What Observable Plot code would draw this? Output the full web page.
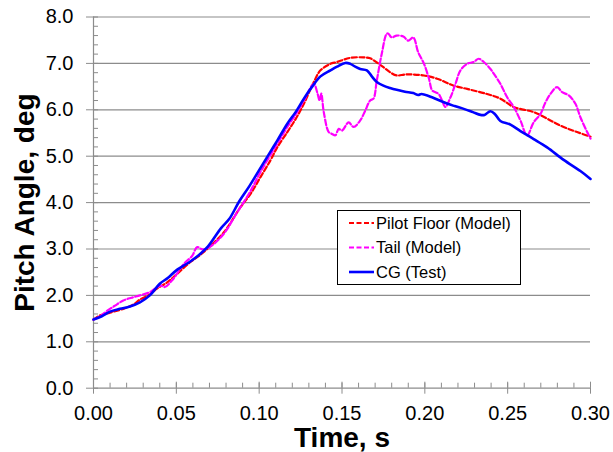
<!DOCTYPE html>
<html>
<head>
<meta charset="utf-8">
<script src="https://cdn.jsdelivr.net/npm/d3@7"></script>
<script src="https://cdn.jsdelivr.net/npm/@observablehq/plot@0.6"></script>
<style>
  html, body { margin: 0; padding: 0; background: #fff; }
  #chart { width: 613px; height: 452px; }
</style>
</head>
<body>
<div id="chart"></div>
<script>
// ---- Data ----
const cgTime = [0.000,0.005,0.010,0.016,0.022,0.028,0.034,0.040,0.045,0.050,0.058,0.064,0.069,0.077,0.082,0.088,0.094,0.100,0.106,0.111,0.117,0.122,0.127,0.132,0.137,0.143,0.147,0.152,0.155,0.158,0.161,0.165,0.168,0.171,0.175,0.179,0.183,0.188,0.193,0.196,0.198,0.205,0.213,0.218,0.2235,0.229,0.2336,0.236,0.2396,0.2425,0.2456,0.2517,0.2577,0.2657,0.2738,0.2838,0.2939,0.300];
const cgPitch = [1.48,1.55,1.65,1.71,1.76,1.85,2.00,2.25,2.38,2.54,2.72,2.88,3.05,3.45,3.65,4.03,4.35,4.70,5.05,5.34,5.70,5.95,6.24,6.50,6.72,6.85,6.93,7.01,6.99,6.93,6.88,6.85,6.72,6.60,6.52,6.47,6.43,6.39,6.36,6.32,6.34,6.26,6.14,6.08,6.02,5.95,5.89,5.89,5.97,5.90,5.76,5.68,5.54,5.37,5.19,4.92,4.68,4.51];

const floorTime = [0.000,0.004,0.010,0.018,0.024,0.028,0.034,0.038,0.0445,0.050,0.0585,0.064,0.0686,0.0787,0.0887,0.095,0.1008,0.1068,0.1109,0.117,0.122,0.127,0.133,0.137,0.143,0.147,0.155,0.163,0.167,0.171,0.175,0.179,0.183,0.188,0.193,0.1995,0.2074,0.2175,0.2255,0.2376,0.2456,0.2537,0.2657,0.2738,0.2818,0.2919,0.300];
const floorPitch = [1.48,1.57,1.63,1.71,1.80,1.91,2.02,2.14,2.28,2.45,2.72,2.86,3.00,3.36,3.90,4.20,4.55,4.91,5.19,5.52,5.80,6.13,6.60,6.85,6.99,7.03,7.12,7.13,7.11,7.02,6.92,6.81,6.74,6.76,6.76,6.74,6.67,6.52,6.45,6.34,6.24,6.06,5.95,5.81,5.66,5.52,5.42];

const tailTime = [0.000,0.004,0.0083,0.013,0.018,0.023,0.028,0.034,0.0404,0.043,0.048,0.0545,0.0595,0.0626,0.066,0.0705,0.0787,0.0867,0.094,0.1008,0.1109,0.117,0.122,0.127,0.133,0.135,0.1365,0.1375,0.139,0.142,0.144,0.146,0.148,0.150,0.154,0.157,0.161,0.164,0.167,0.169,0.171,0.174,0.177,0.178,0.180,0.183,0.187,0.190,0.193,0.196,0.1995,0.2025,0.2044,0.2064,0.2084,0.2104,0.2124,0.2155,0.2185,0.2215,0.2255,0.2295,0.2325,0.2356,0.2396,0.2416,0.2456,0.2497,0.2537,0.2577,0.2617,0.2657,0.2698,0.2728,0.2758,0.2798,0.2829,0.2869,0.2909,0.2939,0.298,0.300];
const tailPitch = [1.48,1.55,1.67,1.78,1.89,1.95,2.00,2.07,2.21,2.18,2.35,2.68,2.85,3.04,2.99,3.05,3.33,3.79,4.20,4.66,5.27,5.63,5.90,6.20,6.56,6.38,6.20,6.35,5.95,5.52,5.48,5.45,5.59,5.55,5.73,5.63,5.77,5.98,6.20,6.24,6.63,7.21,7.64,7.64,7.56,7.60,7.58,7.49,7.56,7.24,6.99,6.67,6.42,6.38,6.34,6.20,6.06,6.27,6.56,6.85,6.99,7.03,7.10,7.03,6.88,6.78,6.56,6.27,6.06,5.77,5.45,5.73,5.91,6.16,6.34,6.49,6.38,6.31,6.13,5.84,5.52,5.38];

const seriesNames = ["Pilot Floor (Model)", "Tail (Model)", "CG (Test)"];
const seriesColors = ["#ff0000", "#ff00ff", "#0000ff"];

const xTicks = [0, 0.05, 0.10, 0.15, 0.20, 0.25, 0.30];
const xMinor = d3.range(0, 31).map(i => i / 100);
const yTicks = [0, 1, 2, 3, 4, 5, 6, 7, 8];
const yMinor = d3.range(0, 41).map(i => i / 5);

const xLabel = "Time, s";
const yLabel = "Pitch Angle, deg";

// ---- Build tables ----
const toRows = (ts, vs) => ts.map((t, i) => ({t, v: vs[i]}));
const floorRows = toRows(floorTime, floorPitch);
const tailRows = toRows(tailTime, tailPitch);
const cgRows = toRows(cgTime, cgPitch);

const gray = "#8c8c8c";
const font = "'Liberation Sans', Arial, Helvetica, sans-serif";

const chart = Plot.plot({
  width: 613,
  height: 452,
  marginLeft: 93,
  marginRight: 23,
  marginTop: 16.5,
  marginBottom: 64.3,
  style: {fontFamily: font, fontSize: "20px", color: "black", background: "white", overflow: "visible"},
  x: {domain: [0, 0.30], label: null},
  y: {domain: [0, 8], label: null},
  marks: [
    Plot.ruleY(yTicks, {stroke: gray, strokeWidth: 1.2}),
    Plot.ruleX([0], {stroke: gray, strokeWidth: 1.2}),
    // minor ticks (inside)
    Plot.axisY({ticks: yMinor, tickSize: -5, tickFormat: () => "", stroke: gray, label: null}),
    Plot.axisX({ticks: xMinor, tickSize: -5, tickFormat: () => "", stroke: gray, label: null}),
    // major ticks crossing the axes
    Plot.axisX({ticks: xTicks, tickSize: -6, tickFormat: () => "", stroke: gray, label: null}),
    Plot.axisY({ticks: yTicks, tickSize: 7, tickPadding: 13, tickFormat: d3.format(".1f"), stroke: gray, fontSize: 20, label: null}),
    Plot.axisX({ticks: xTicks, tickSize: 6, tickPadding: 12, tickFormat: d3.format(".2f"), stroke: gray, fontSize: 20, label: null}),
    // data
    Plot.line(floorRows, {x: "t", y: "v", stroke: seriesColors[0], strokeWidth: 2.2, strokeDasharray: "5,2.5", curve: "catmull-rom"}),
    Plot.line(tailRows, {x: "t", y: "v", stroke: seriesColors[1], strokeWidth: 2.2, strokeDasharray: "5.5,2.5", curve: "catmull-rom"}),
    Plot.line(cgRows, {x: "t", y: "v", stroke: seriesColors[2], strokeWidth: 2.6, curve: "catmull-rom"}),
    // axis titles
    Plot.text([xLabel], {frameAnchor: "bottom", dy: 50, textAnchor: "middle", lineAnchor: "middle", fontSize: 28, fontWeight: "bold", fill: "black"}),
    Plot.text([yLabel], {frameAnchor: "left", dx: -68.5, rotate: -90, textAnchor: "middle", lineAnchor: "middle", fontSize: 28, fontWeight: "bold", fill: "black"})
  ]
});

document.getElementById("chart").appendChild(chart);

// ---- Legend (inside the plot area, boxed) ----
const svg = d3.select(chart);
const lg = svg.append("g").attr("transform", "translate(337.5,210.5)");
lg.append("rect").attr("width", 183).attr("height", 74).attr("fill", "white").attr("stroke", "black").attr("stroke-width", 1);
const dashes = ["5,2.5", "5,2.5", null];
const widths = [2, 2, 2.6];
seriesNames.forEach((name, i) => {
  const y = 12.5 + i * 24.5;
  const ln = lg.append("line").attr("x1", 11.5).attr("x2", 36.5).attr("y1", y).attr("y2", y)
    .attr("stroke", seriesColors[i]).attr("stroke-width", widths[i]);
  if (dashes[i]) ln.attr("stroke-dasharray", dashes[i]);
  lg.append("text").attr("x", 38.5).attr("y", y).attr("dy", "0.35em")
    .attr("text-anchor", "start")
    .attr("font-family", font).attr("font-size", 16.5).attr("fill", "black").text(name);
});
</script>
</body>
</html>
